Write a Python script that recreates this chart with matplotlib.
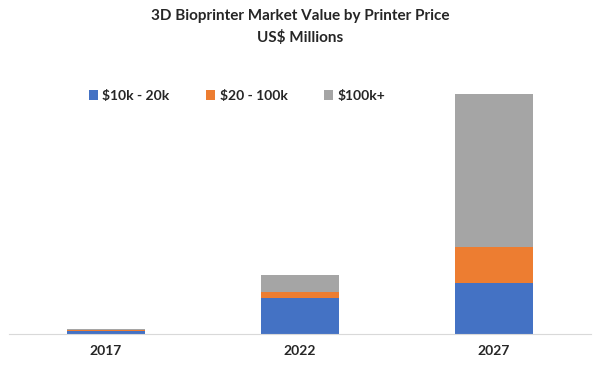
import matplotlib.pyplot as plt
import numpy as np

# данные (условные единицы)
years = ["2017", "2022", "2027"]
low = [3.5, 36, 51]        # $10k - 20k
mid = [0.7, 6, 36]         # $20 - 100k
high = [1.2, 17, 153]      # $100k+
labels = ["$10k - 20k", "$20 - 100k", "$100k+"]
colors = ["#4472C4", "#ED7D31", "#A5A5A5"]

plt.rcParams['font.family'] = ['Lato', 'DejaVu Sans']

fig = plt.figure(figsize=(6, 3.9), dpi=100)
ax = fig.add_axes([9 / 600, 56 / 390, 582 / 600, 264 / 390])

x = np.arange(len(years))
w = 0.4
bottom = np.zeros(len(years))
for vals, lab, c in zip([low, mid, high], labels, colors):
    ax.bar(x, vals, w, bottom=bottom, color=c, label=lab)
    bottom += np.array(vals)

ax.set_xlim(-0.5, 2.5)
ax.set_ylim(0, 264)
ax.set_xticks(x)
ax.set_xticklabels(years, fontsize=10, fontweight='bold', color='#262626')
ax.tick_params(axis='x', length=0, pad=8)
ax.set_yticks([])
for s in ['top', 'left', 'right']:
    ax.spines[s].set_visible(False)
ax.spines['bottom'].set_color('#D9D9D9')

fig.text(0.5, 1 - 16 / 390, "3D Bioprinter Market Value by Printer Price",
         ha='center', va='center', fontsize=11, fontweight='bold', color='#262626')
fig.text(0.5, 1 - 38 / 390, "US$ Millions",
         ha='center', va='center', fontsize=11, fontweight='bold', color='#262626')

fig.legend(loc='center left', bbox_to_anchor=(76 / 600, 1 - 96 / 390), ncol=3,
           frameon=False, prop={'size': 10, 'weight': 'bold'},
           handlelength=0.7, handleheight=0.7, handletextpad=0.3,
           columnspacing=2.6, labelcolor='#262626')

fig.savefig("out.png", dpi=100)
